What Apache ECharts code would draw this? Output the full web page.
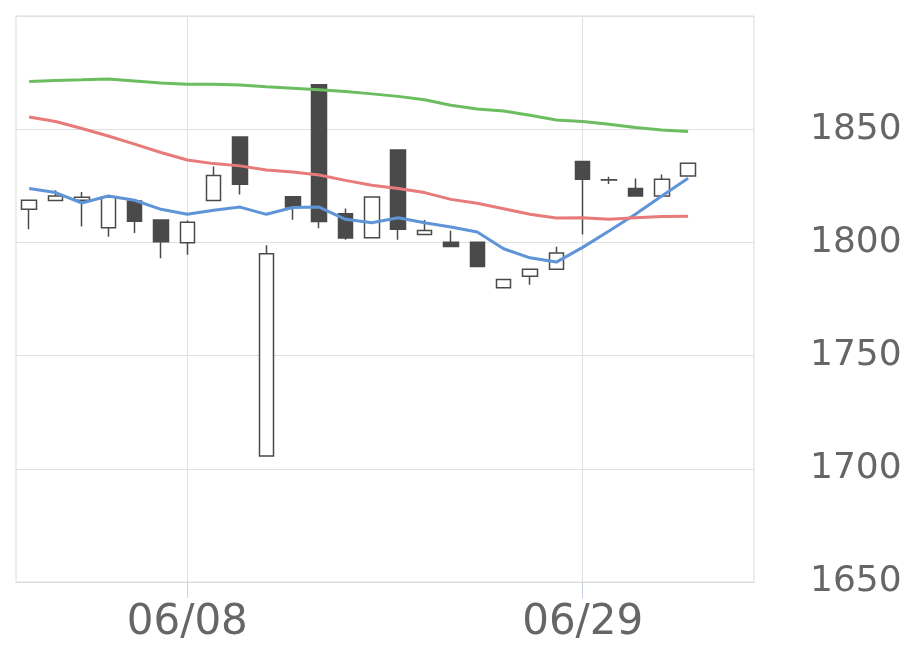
<!DOCTYPE html>
<html>
<head>
<meta charset="utf-8">
<script src="https://cdn.jsdelivr.net/npm/echarts@6/dist/echarts.min.js"></script>
<style>
  html, body { margin: 0; padding: 0; background: #fff; }
  #main { width: 920px; height: 669px; }
</style>
</head>
<body>
<div id="main"></div>
<script>
// 日付（最後の2日はデータなし）
var dates = ['05/29','06/01','06/02','06/03','06/04','06/05','06/08','06/09','06/10','06/11',
  '06/12','06/15','06/16','06/17','06/18','06/19','06/22','06/23','06/24','06/25',
  '06/26','06/29','06/30','07/01','07/02','07/03','07/06','07/07'];

// [open, close, low, high]
var ohlc = [
  [1814.6, 1818.6, 1805.8, 1818.6],
  [1818.5, 1820.5, 1818.5, 1823.0],
  [1818.6, 1819.9, 1807.0, 1822.3],
  [1806.5, 1820.0, 1802.5, 1820.0],
  [1818.3, 1809.3, 1804.1, 1818.3],
  [1809.9, 1800.3, 1793.0, 1809.9],
  [1799.9, 1808.9, 1794.6, 1809.7],
  [1818.5, 1829.5, 1818.5, 1833.5],
  [1846.6, 1825.7, 1821.2, 1846.6],
  [1705.7, 1795.0, 1705.7, 1798.7],
  [1820.2, 1815.6, 1810.0, 1820.2],
  [1869.6, 1809.2, 1806.3, 1869.6],
  [1812.7, 1801.9, 1801.2, 1815.0],
  [1802.1, 1820.1, 1802.1, 1820.1],
  [1840.8, 1805.8, 1801.2, 1840.8],
  [1803.5, 1805.3, 1803.5, 1809.9],
  [1800.1, 1798.2, 1798.2, 1805.2],
  [1800.1, 1789.4, 1789.4, 1800.1],
  [1780.0, 1783.6, 1780.0, 1783.6],
  [1785.1, 1788.1, 1781.3, 1788.1],
  [1788.1, 1795.3, 1788.1, 1798.1],
  [1835.7, 1827.9, 1803.5, 1835.7],
  [1827.6, 1827.7, 1825.8, 1829.0],
  [1823.8, 1820.5, 1820.5, 1828.2],
  [1820.5, 1827.9, 1820.5, 1830.0],
  [1829.3, 1835.0, 1829.3, 1835.0]
];

var maShort = [1823.8, 1822.0, 1817.4, 1820.5, 1818.6, 1814.6, 1812.4, 1814.2, 1815.6, 1812.4,
  1815.4, 1815.6, 1810.2, 1808.7, 1810.9, 1808.7, 1806.8, 1804.6, 1797.2, 1793.2,
  1791.3, 1797.8, 1805.0, 1812.4, 1820.5, 1828.3];

var maMid = [1855.4, 1853.4, 1850.3, 1847.0, 1843.4, 1839.7, 1836.4, 1834.8, 1833.8, 1832.0,
  1831.1, 1829.8, 1827.4, 1825.2, 1823.8, 1822.0, 1819.0, 1817.3, 1814.9, 1812.4,
  1810.8, 1810.9, 1810.2, 1810.9, 1811.4, 1811.6];

var maLong = [1871.1, 1871.5, 1871.8, 1872.2, 1871.3, 1870.4, 1869.9, 1869.8, 1869.5, 1868.7,
  1868.1, 1867.4, 1866.7, 1865.6, 1864.5, 1863.0, 1860.6, 1858.9, 1858.0, 1856.2,
  1854.1, 1853.4, 1852.2, 1850.8, 1849.6, 1849.0];

var labelDays = ['06/08', '06/29'];

var chart = echarts.init(document.getElementById('main'));

function showAt(i, v) {
  return labelDays.indexOf(v) >= 0;
}

function tickAt(i) {
  return labelDays.indexOf(dates[i]) >= 0;
}

function maLine(name, data, color) {
  return {
    name: name,
    type: 'line',
    data: data,
    symbol: 'none',
    smooth: false,
    lineStyle: { color: color, width: 3 },
    z: 3
  };
}

chart.setOption({
  animation: false,
  textStyle: { fontFamily: 'DejaVu Sans' },
  grid: {
    left: 16, right: 166, top: 16, bottom: 87,
    show: true, borderColor: '#dcdcdc', borderWidth: 1
  },
  xAxis: {
    type: 'category',
    data: dates,
    boundaryGap: true,
    axisLine: { show: true, lineStyle: { color: '#dcdcdc', width: 1 } },
    axisTick: {
      show: true, alignWithLabel: true, interval: tickAt, length: 16,
      inside: false,
      lineStyle: { color: '#c4cfe6', width: 1 }
    },
    axisLabel: {
      interval: showAt, color: '#666666', fontSize: 42, margin: 20,
      fontFamily: 'DejaVu Sans'
    },
    splitLine: {
      show: true, alignWithLabel: true, interval: tickAt,
      lineStyle: { color: '#e0e0e0', width: 1 }
    }
  },
  yAxis: {
    type: 'value',
    position: 'right',
    min: 1650, max: 1900, interval: 50,
    axisLine: { show: false },
    axisTick: { show: false },
    axisLabel: {
      color: '#666666', fontSize: 36, margin: 56, showMaxLabel: false,
      fontFamily: 'DejaVu Sans',
      formatter: function (v) { return String(v); }
    },
    splitLine: { lineStyle: { color: '#e0e0e0', width: 1 } }
  },
  series: [
    {
      name: '株価',
      type: 'candlestick',
      data: ohlc,
      barWidth: 15,
      itemStyle: {
        color: '#ffffff',
        color0: '#4a4a4a',
        borderColor: '#4a4a4a',
        borderColor0: '#4a4a4a',
        borderWidth: 1.5
      },
      z: 2
    },
    maLine('MA5', maShort, '#5f95d8'),
    maLine('MA25', maMid, '#e87a7a'),
    maLine('MA75', maLong, '#6bbd60')
  ]
});
</script>
</body>
</html>
